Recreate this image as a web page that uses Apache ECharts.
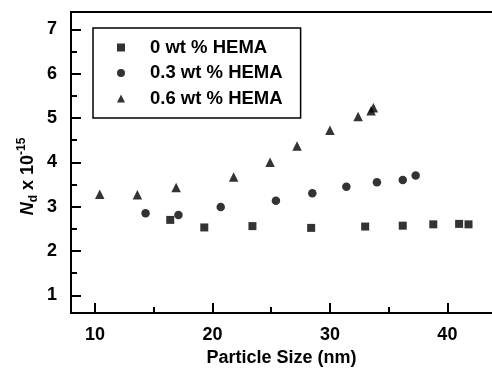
<!DOCTYPE html>
<html>
<head>
<meta charset="utf-8">
<script src="https://cdn.jsdelivr.net/npm/echarts@6/dist/echarts.min.js"></script>
<style>html,body{margin:0;padding:0;background:#fff;}#c{width:492px;height:375px;}</style>
</head>
<body>
<div id="c"></div>
<script>
// Data
var seriesNames = ['0 wt % HEMA', '0.3 wt % HEMA', '0.6 wt % HEMA'];
var size0 = [16.4, 19.3, 23.4, 28.4, 33.0, 36.2, 38.8, 41.0, 41.8];
var nd0 = [2.70, 2.53, 2.56, 2.52, 2.55, 2.57, 2.60, 2.61, 2.60];
var size03 = [14.3, 17.1, 20.7, 25.4, 28.5, 31.4, 34.0, 36.2, 37.3];
var nd03 = [2.85, 2.81, 2.99, 3.13, 3.30, 3.45, 3.55, 3.60, 3.70];
var size06 = [10.4, 13.6, 16.9, 21.8, 24.9, 27.2, 30.0, 32.4, 33.5, 33.7];
var nd06 = [3.28, 3.27, 3.43, 3.67, 4.00, 4.37, 4.72, 5.03, 5.16, 5.23];
var xTicks = [10, 20, 30, 40];
var xMinorTicks = [15, 25, 35];
var yTicks = [1, 2, 3, 4, 5, 6, 7];
var yMinorTicks = [1.5, 2.5, 3.5, 4.5, 5.5, 6.5];

function pairs(xs, ys) { return xs.map(function (x, i) { return [x, ys[i]]; }); }

var FONT = '"Liberation Sans", Arial, sans-serif';
var X_MIN = 7.95, X_MAX = 43.8, Y_MIN = 0.6, Y_MAX = 7.39;

var chart = echarts.init(document.getElementById('c'), null, { renderer: 'canvas' });
chart.setOption({
  backgroundColor: '#ffffff',
  animation: false,
  grid: { left: 71, right: 0, top: 12, bottom: 62 },
  legend: {
    orient: 'vertical',
    left: 93, top: 28,
    padding: [10, 18, 10, 24],
    borderColor: '#000', borderWidth: 1.5, borderRadius: 0,
    itemWidth: 8, itemHeight: 8, itemGap: 6.5,
    textStyle: { color: '#000', fontFamily: FONT, fontWeight: 'bold', fontSize: 18.5, padding: [0, 0, 0, 20] },
    data: [
      { name: seriesNames[0], icon: 'rect' },
      { name: seriesNames[1], icon: 'circle' },
      { name: seriesNames[2], icon: 'triangle' }
    ]
  },
  xAxis: [
    {
      type: 'value', min: X_MIN, max: X_MAX, position: 'bottom',
      name: 'Particle Size (nm)', nameLocation: 'middle', nameGap: 36, nameMoveOverlap: false,
      nameTextStyle: { color: '#000', fontFamily: FONT, fontWeight: 'bold', fontSize: 18 },
      axisLine: { show: true, onZero: false, lineStyle: { color: '#000', width: 2 } },
      axisTick: { show: true, inside: true, length: 10, customValues: xTicks, lineStyle: { color: '#000', width: 2 } },
      axisLabel: { customValues: xTicks, margin: 13, color: '#000', fontFamily: FONT, fontWeight: 'bold', fontSize: 18 },
      splitLine: { show: false }
    },
    {
      type: 'value', min: X_MIN, max: X_MAX, position: 'bottom',
      axisLine: { show: false, onZero: false },
      axisTick: { show: true, inside: true, length: 6, customValues: xMinorTicks, lineStyle: { color: '#000', width: 2 } },
      axisLabel: { show: false },
      splitLine: { show: false }
    },
    {
      type: 'value', min: X_MIN, max: X_MAX, position: 'top',
      axisLine: { show: true, onZero: false, lineStyle: { color: '#000', width: 2 } },
      axisTick: { show: false }, axisLabel: { show: false }, splitLine: { show: false }
    }
  ],
  yAxis: [
    {
      type: 'value', min: Y_MIN, max: Y_MAX, position: 'left',
      name: '{i|N}{sub|d}{b| x 10}{sup|-15}', nameLocation: 'middle', nameGap: 31, nameRotate: 90, nameMoveOverlap: false,
      nameTextStyle: {
        color: '#000', fontFamily: FONT, fontWeight: 'bold', fontSize: 18, padding: [0, 28, 0, 0],
        rich: {
          i: { fontFamily: FONT, fontWeight: 'bold', fontStyle: 'italic', fontSize: 18, color: '#000', lineHeight: 24 },
          b: { fontFamily: FONT, fontWeight: 'bold', fontSize: 18, color: '#000', lineHeight: 24 },
          sub: { fontFamily: FONT, fontWeight: 'bold', fontSize: 12, color: '#000', verticalAlign: 'bottom', lineHeight: 24 },
          sup: { fontFamily: FONT, fontWeight: 'bold', fontSize: 12, color: '#000', verticalAlign: 'top', lineHeight: 24 }
        }
      },
      axisLine: { show: true, onZero: false, lineStyle: { color: '#000', width: 2 } },
      axisTick: { show: true, inside: true, length: 10, customValues: yTicks, lineStyle: { color: '#000', width: 2 } },
      axisLabel: { customValues: yTicks, margin: 14, color: '#000', fontFamily: FONT, fontWeight: 'bold', fontSize: 18 },
      splitLine: { show: false }
    },
    {
      type: 'value', min: Y_MIN, max: Y_MAX, position: 'left',
      axisLine: { show: false, onZero: false },
      axisTick: { show: true, inside: true, length: 6, customValues: yMinorTicks, lineStyle: { color: '#000', width: 2 } },
      axisLabel: { show: false },
      splitLine: { show: false }
    }
  ],
  series: [
    { name: seriesNames[0], type: 'scatter', symbol: 'rect', symbolSize: 8, itemStyle: { color: '#000' }, data: pairs(size0, nd0) },
    { name: seriesNames[1], type: 'scatter', symbol: 'circle', symbolSize: 8.5, itemStyle: { color: '#000' }, data: pairs(size03, nd03) },
    { name: seriesNames[2], type: 'scatter', symbol: 'triangle', symbolSize: 9.5, itemStyle: { color: '#000' }, data: pairs(size06, nd06) }
  ]
});
</script>
</body>
</html>
